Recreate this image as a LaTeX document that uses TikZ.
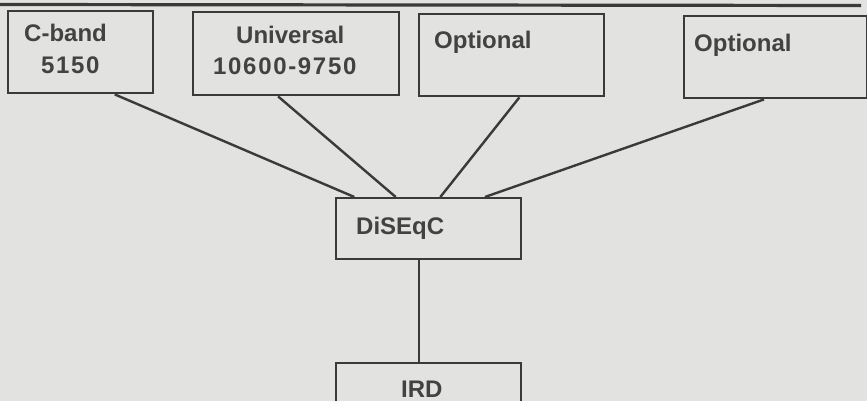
\documentclass[tikz,border=0pt]{standalone}
\usepackage{fontspec}
\setmainfont{Liberation Sans}
\usetikzlibrary{calc}
\definecolor{paper}{RGB}{226,226,224}
\definecolor{ink}{RGB}{58,58,56}
\definecolor{txt}{RGB}{66,66,64}
\tikzset{
  boxnode/.style={draw=ink, line width=2.4pt, inner sep=0pt, anchor=north west},
  lbl/.style={anchor=base west, inner sep=0pt, text=txt, font=\fontsize{24}{28}\selectfont\bfseries},
  num/.style={lbl, font=\fontsize{24}{28}\selectfont\bfseries\addfontfeature{LetterSpace=7}},
  wire/.style={draw=ink, line width=2.4pt},
}
\begin{document}
\begin{tikzpicture}[x=1pt, y=-1pt]
\fill[paper] (0,0) rectangle (867,401);
\useasboundingbox (0,0) rectangle (867,401);
\draw[ink, line width=3.2pt] (0,4.5) -- (861,5.5);
% boxes
\node[boxnode, minimum width=145pt, minimum height=82pt] (cband) at (7,10) {};
\node[boxnode, minimum width=206pt, minimum height=83pt] (univ) at (192,11) {};
\node[boxnode, minimum width=185pt, minimum height=82pt] (opt1) at (418,13) {};
\node[boxnode, minimum width=183pt, minimum height=82pt] (opt2) at (683,15) {};
\node[boxnode, minimum width=185pt, minimum height=61pt] (diseqc) at (335,197) {};
\node[boxnode, minimum width=185pt, minimum height=70pt] (ird) at (335,362) {};
% texts
\node[lbl] (t1) at (24,42) {C-band};
\node[num] (t2) at (41,74) {5150};
\node[lbl] (t3) at (236,44) {Universal};
\node[num] (t4) at (213,75) {10600-9750};
\node[lbl] (t5) at (434,49) {Optional};
\node[lbl] (t6) at (694,52) {Optional};
\node[lbl] (t7) at (356,234) {DiSEqC};
\node[lbl] (t8) at (401,397) {IRD};
% connectors
\draw[wire] ($(cband.south west)!0.731!(cband.south east)$) -- ($(diseqc.north west)!0.103!(diseqc.north east)$);
\draw[wire] ($(univ.south west)!0.413!(univ.south east)$) -- ($(diseqc.north west)!0.324!(diseqc.north east)$);
\draw[wire] ($(opt1.south west)!0.541!(opt1.south east)$) -- ($(diseqc.north west)!0.562!(diseqc.north east)$);
\draw[wire] ($(opt2.south west)!0.437!(opt2.south east)$) -- ($(diseqc.north west)!0.8!(diseqc.north east)$);
\draw[wire] ($(diseqc.south west)!0.449!(diseqc.south east)$) -- ($(ird.north west)!0.449!(ird.north east)$);
\end{tikzpicture}
\end{document}
